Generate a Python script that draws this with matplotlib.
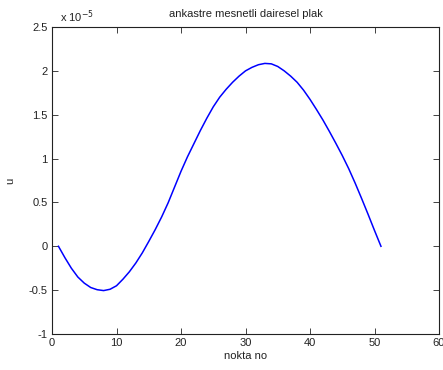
import numpy as np
import matplotlib.pyplot as plt
from matplotlib.ticker import FuncFormatter

plt.rcParams['font.family'] = ['Liberation Sans', 'DejaVu Sans']

# deflection of the clamped circular plate at each node (units of 1e-5)
nokta = np.arange(1, 52)
u_scaled = [0.0, -0.13, -0.25, -0.35, -0.42, -0.47, -0.495, -0.505, -0.49, -0.45,
            -0.375, -0.29, -0.19, -0.075, 0.055, 0.19, 0.335, 0.495, 0.675, 0.855,
            1.02, 1.17, 1.32, 1.46, 1.59, 1.70, 1.79, 1.87, 1.94, 2.00,
            2.04, 2.07, 2.085, 2.08, 2.05, 2.00, 1.94, 1.87, 1.78, 1.675,
            1.56, 1.44, 1.31, 1.175, 1.035, 0.885, 0.72, 0.545, 0.365, 0.18, 0.0]
u = np.array(u_scaled) * 1e-5

fig = plt.figure(figsize=(4.43, 3.70), dpi=100)
ax = fig.add_axes([0.1174, 0.0973, 0.8736, 0.8297])

ax.plot(nokta, u, color='#0000ff', lw=1.1)

ax.set_xlim(0, 60)
ax.set_ylim(-1e-5, 2.5e-5)
ax.set_xticks(np.arange(0, 61, 10))
ax.set_yticks(np.arange(-1, 2.51, 0.5) * 1e-5)
ax.yaxis.set_major_formatter(FuncFormatter(lambda v, _: f'{v / 1e-5:g}'))

ax.tick_params(direction='in', length=4, width=0.6, top=True, right=True,
               labelsize=8, colors='#222222', pad=3)
for sp in ax.spines.values():
    sp.set_linewidth(0.8)
    sp.set_color('#222222')

ax.text(0.02, 1.005, r'x 10$^{-5}$', transform=ax.transAxes, fontsize=8,
        ha='left', va='bottom', color='#222222')
ax.set_title('ankastre mesnetli dairesel plak', fontsize=8, pad=7, color='#222222')
ax.set_xlabel('nokta no', fontsize=8, labelpad=2, color='#222222')
ax.set_ylabel('u', fontsize=8, labelpad=10, color='#222222')

fig.savefig('out.png', dpi=100)
